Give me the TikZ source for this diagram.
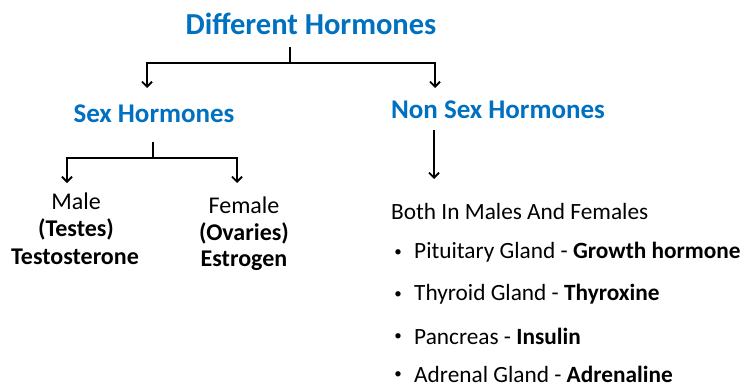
\documentclass[tikz,border=0pt]{standalone}
\usepackage{fontspec}
\setmainfont{Carlito}
\usepackage{xcolor}
\usepackage{tikz}
\usetikzlibrary{arrows.meta,positioning,calc}
\definecolor{hormblue}{RGB}{0,112,192}

\begin{document}
\begin{tikzpicture}[
  x=1pt,y=-1pt,
  head/.style={font=\fontsize{30.5}{32}\selectfont\bfseries,text=hormblue,inner sep=0pt},
  sub/.style={font=\fontsize{27}{29}\selectfont\bfseries,text=hormblue,inner sep=0pt},
  leaf/.style={font=\fontsize{24}{26}\selectfont,inner sep=0pt,align=center},
  bleaf/.style={leaf,font=\fontsize{24}{26}\selectfont\bfseries},
  item/.style={font=\fontsize{23.3}{25}\selectfont,inner sep=0pt,anchor=west},
  bul/.style={font=\fontsize{15}{16}\selectfont,inner sep=0pt},
  line/.style={line width=1.8pt},
  arr/.style={line width=1.8pt,-{Straight Barb[length=5pt,width=10pt,line width=1.8pt]}}
]
\useasboundingbox (0,0) rectangle (747,388);

\node[head] (diff) at (311,24) {Different Hormones};
\node[sub] (sex) at (154,114) {Sex Hormones};
\node[sub] (nonsex) at (498,110) {Non Sex Hormones};

% first split
\coordinate (j1) at (290,63);
\coordinate (j1top) at (290,47);
\coordinate (a1) at (147,88);
\coordinate (a2) at (435,88);
\draw[line] (j1top) -- (j1);
\draw[arr] (j1) -| (a1);
\draw[arr] (j1) -| (a2);

% sex hormones
\coordinate (j2) at (153,158);
\coordinate (j2top) at (153,142);
\coordinate (a3) at (67,183);
\coordinate (a4) at (237,183);
\draw[line] (j2top) -- (j2);
\draw[arr] (j2) -| (a3);
\draw[arr] (j2) -| (a4);

\node[leaf] (male) at (76,201) {Male};
\node[bleaf] (testes) at (76,229) {(Testes)};
\node[bleaf] (testo) at (75,257) {Testosterone};
\node[leaf] (female) at (244,205) {Female};
\node[bleaf] (ovar) at (244,233) {(Ovaries)};
\node[bleaf] (estro) at (244,261) {Estrogen};

% non sex hormones
\coordinate (n1) at (434,130);
\coordinate (a5) at (434,179);
\draw[arr] (n1) -- (a5);

\node[item] (both) at (391,211) {Both In Males And Females};
\node[bul] (b1) at (398,253) {•};
\node[bul] (b2) at (398,295) {•};
\node[bul] (b3) at (398,337) {•};
\node[bul] (b4) at (398,375) {•};
\node[item] (pit) at (414,252) {Pituitary Gland - \textbf{Growth hormone}};
\node[item] (thy) at (414,294) {Thyroid Gland - \textbf{Thyroxine}};
\node[item] (pan) at (414,336) {Pancreas - \textbf{Insulin}};
\node[item] (adr) at (414,374) {Adrenal Gland - \textbf{Adrenaline}};
\end{tikzpicture}
\end{document}
